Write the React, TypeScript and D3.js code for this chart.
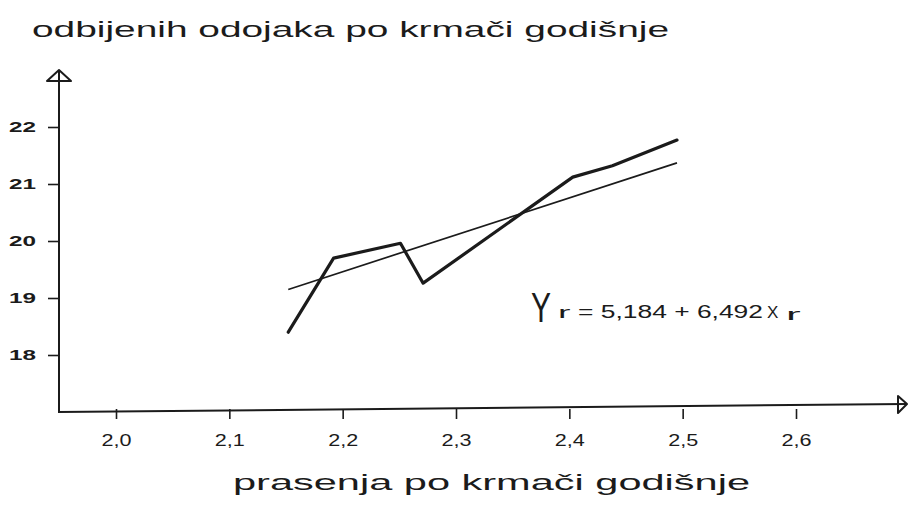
// React
import { useEffect, useRef } from 'react';

// Installed Packages
import * as d3 from 'd3';

// Data
const xValues = [2.152, 2.192, 2.251, 2.271, 2.403, 2.438, 2.495];
const yValues = [18.4, 19.7, 19.96, 19.26, 21.12, 21.32, 21.77];

// regression line end points (Yr = 5,184 + 6,492 Xr)
const trendX = [2.152, 2.495];
const trendY = [19.15, 21.37];

const xTicks = [2.0, 2.1, 2.2, 2.3, 2.4, 2.5, 2.6];
const xTickLabels = ['2,0', '2,1', '2,2', '2,3', '2,4', '2,5', '2,6'];
const yTicks = [18, 19, 20, 21, 22];
const yTickLabels = ['18', '19', '20', '21', '22'];

const titleTop = 'odbijenih odojaka po krmači godišnje';
const titleBottom = 'prasenja po krmači godišnje';

const ink = '#1b1b1b';
const font = "'Liberation Sans', 'DejaVu Sans', sans-serif";

export default function App() {

    let ref = useRef<HTMLDivElement>(null);

    useEffect(() => {

        d3.select(ref.current).html("");

        const width = 911;
        const height = 517;

        const svg = d3.select(ref.current)
            .append("svg")
            .attr("width", width)
            .attr("height", height)
            .style("position", "absolute")
            .style("left", "0px")
            .style("top", "0px")
            .style("background", "#fff");

        let x = d3.scaleLinear().domain([2.0, 2.6]).range([116, 796]);
        let y = d3.scaleLinear().domain([18, 22]).range([355, 127]);

        // Axis lines with open arrow heads
        svg.append("path")
            .attr("d", "M59,412 L59,71")
            .attr("stroke", ink).attr("stroke-width", 2).attr("fill", "none");
        svg.append("path")
            .attr("d", "M47,81 L59,70 L71,81 Z")
            .attr("stroke", ink).attr("stroke-width", 2).attr("fill", "none").attr("stroke-linejoin", "round");

        svg.append("path")
            .attr("d", "M58,412 L906,404")
            .attr("stroke", ink).attr("stroke-width", 2).attr("fill", "none");
        svg.append("path")
            .attr("d", "M898,396 L907,404 L898,413 Z")
            .attr("stroke", ink).attr("stroke-width", 2).attr("fill", "none").attr("stroke-linejoin", "round");

        // Left axis
        let left = svg.append("g")
            .attr("transform", "translate(59,0)")
            .call(d3.axisLeft(y).tickValues(yTicks).tickSize(11).tickPadding(12)
                .tickFormat((d, i) => yTickLabels[i]));
        left.select(".domain").remove();
        left.attr("font-size", 15).attr("font-family", font);
        left.selectAll("line").attr("stroke", ink).attr("stroke-width", 1.6);
        left.selectAll("text")
            .attr("fill", ink)
            .attr("font-weight", "bold")
            .attr("textLength", 27)
            .attr("lengthAdjust", "spacingAndGlyphs");

        // Bottom axis
        let bottom = svg.append("g")
            .attr("transform", "translate(0,409)")
            .call(d3.axisBottom(x).tickValues(xTicks).tickSize(10).tickPadding(16)
                .tickFormat((d, i) => xTickLabels[i]));
        bottom.select(".domain").remove();
        bottom.attr("font-size", 16).attr("font-family", font);
        bottom.selectAll("line").attr("stroke", ink).attr("stroke-width", 1.6);
        bottom.selectAll("text")
            .attr("fill", ink)
            .attr("textLength", 30)
            .attr("lengthAdjust", "spacingAndGlyphs");

        // Regression line
        const line = d3.line<number>()
            .x((d, i) => x(d))
            .curve(d3.curveLinear);

        svg.append("path")
            .attr("d", line.y((d, i) => y(trendY[i]))(trendX))
            .attr("stroke", ink)
            .attr("stroke-width", 1.7)
            .attr("fill", "none");

        // Data line
        svg.append("path")
            .attr("d", line.y((d, i) => y(yValues[i]))(xValues))
            .attr("stroke", ink)
            .attr("stroke-width", 3.2)
            .attr("stroke-linejoin", "round")
            .attr("stroke-linecap", "round")
            .attr("fill", "none");

        // Titles
        svg.append("text")
            .attr("x", 32).attr("y", 37)
            .attr("textLength", 637).attr("lengthAdjust", "spacingAndGlyphs")
            .attr("fill", ink)
            .style("font-family", font).style("font-size", "22px")
            .text(titleTop);

        svg.append("text")
            .attr("x", 233).attr("y", 490)
            .attr("textLength", 517).attr("lengthAdjust", "spacingAndGlyphs")
            .attr("fill", ink)
            .style("font-family", font).style("font-size", "22px")
            .text(titleBottom);

        // Equation  Yr = 5,184 + 6,492 Xr
        let eq = svg.append("g").attr("fill", ink).style("font-family", font);
        eq.append("text").attr("x", 531).attr("y", 322)
            .attr("textLength", 20).attr("lengthAdjust", "spacingAndGlyphs")
            .style("font-size", "42px").text("Y");
        eq.append("text")
            .attr("transform", "translate(558,318) scale(2.2,1)")
            .style("font-size", "17px").text("r");
        eq.append("text").attr("x", 578).attr("y", 318)
            .attr("textLength", 185).attr("lengthAdjust", "spacingAndGlyphs")
            .style("font-size", "18px").text("= 5,184 + 6,492");
        eq.append("text").attr("x", 767).attr("y", 318)
            .style("font-size", "17px").text("X");
        eq.append("text")
            .attr("transform", "translate(786,320) scale(2.6,1)")
            .style("font-size", "17px").text("r");

    }, [])

    return <div ref={ref}></div>
}
